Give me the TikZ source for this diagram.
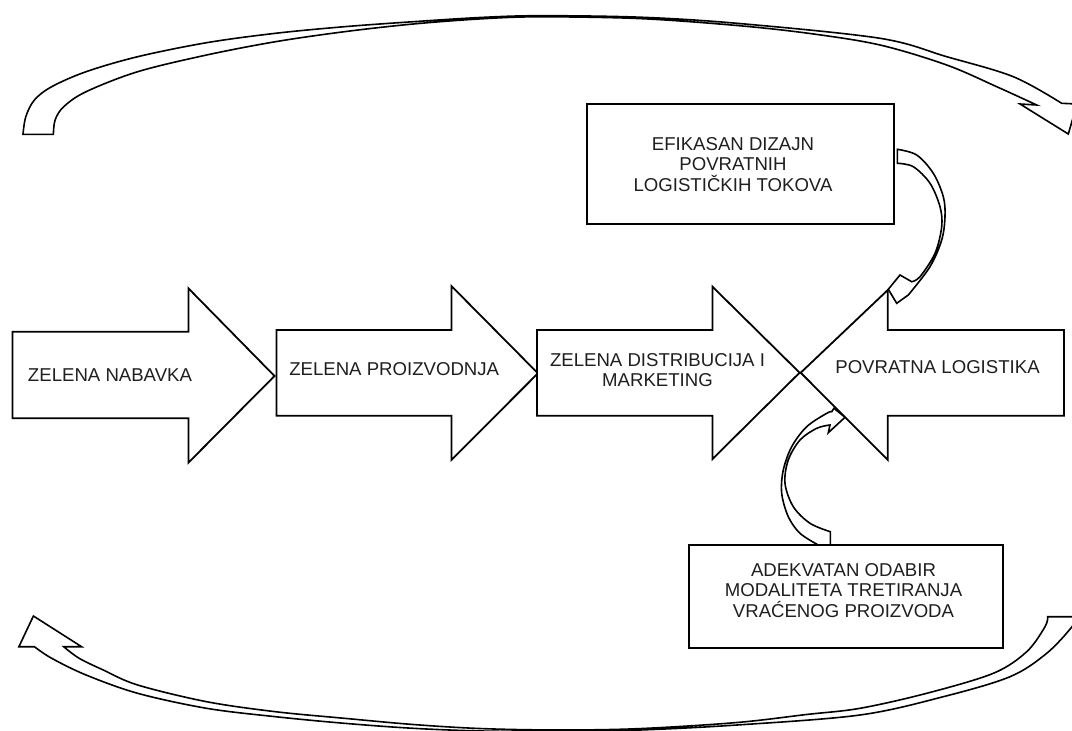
\documentclass[tikz,border=0pt]{standalone}
\usepackage{fontspec}
\setmainfont{Liberation Sans}
\begin{document}
\begin{tikzpicture}[x=1pt,y=-1pt,
  blk/.style={draw=black, line width=1.8pt, fill=white, line join=miter},
  box/.style={draw=black, line width=2.2pt, fill=white},
  bnd/.style={draw=black, line width=1.6pt, fill=white, line join=miter},
  lbl/.style={font=\fontsize{18.6}{20.5}\selectfont, text=black!88, align=center, inner sep=0pt},
]
\useasboundingbox (0,0) rectangle (1072,731);
\clip (0,0) rectangle (1072,731);

% upper return arrow (tail at the left, head at the right)
\draw[bnd] (23,134.3) -- (53.4,134.3)
  -- plot[smooth, tension=0.55] coordinates {(53.4,134.3) (55.1,120) (63.7,106.7) (86.1,91.7) (137.7,71.7) (206.6,55) (275.5,41.7) (344.4,31.7) (413.2,24) (482,18.8) (540,16.8) (640,18.6) (737,25.5) (810,33.5) (880,45) (946.7,65) (996.7,86.7) (1036.7,105)}
  -- (1020,104) -- (1068.3,134) -- (1077,104) -- (1061.7,103.3)
  -- plot[smooth, tension=0.55] coordinates {(1061.7,103.3) (1013.3,76.7) (946.7,56.7) (880,38.3) (737,23.3) (640,17.2) (540,15.7) (482,17.4) (413.2,21.7) (344.4,26.7) (275.5,33.3) (206.6,42.7) (137.7,56.7) (86.1,71.7) (51.7,86.7) (34.4,100) (25.8,116.7) (23,134.3)}
  -- cycle;

% lower return arrow (tail at the right, head at the left)
\draw[bnd] (1047.7,616.7) -- (1076,616.7)
  -- plot[smooth, tension=0.55] coordinates {(1076,616.7) (1072,626.7) (1046.7,653.3) (1010,676.7) (943.3,696.7) (860,715) (737,725) (640,730) (560,731.5) (482,731) (413.2,728.3) (344.4,723.3) (275.5,716.7) (206.6,708.3) (137.7,693.3) (86.1,675) (51.7,658.3) (34.4,646.7)}
  -- (18.9,646.7) -- (33.4,616) -- (81.6,646.7) -- (63.7,646.7)
  -- plot[smooth, tension=0.55] coordinates {(63.7,646.7) (79.2,658.3) (103.3,670) (137.7,685) (206.6,701.7) (275.5,711.7) (344.4,718.3) (413.2,724.5) (482,728.6) (560,730) (640,728.6) (737,722.5) (806.5,714.5) (860,708.3) (926.7,693.3) (993.3,673.3) (1026.7,651.7) (1045,626.7) (1047.7,616.7)}
  -- cycle;

% block arrows of the chain
\draw[blk] (12.4,331.7) -- (188.4,331.7) -- (188.4,288.3) -- (274.5,376) -- (188.4,462.7) -- (188.4,418.3) -- (12.4,418.3) -- cycle;
\draw[blk] (276.5,330) -- (451.4,330) -- (451.4,286) -- (537.9,373.3) -- (451.4,460) -- (451.4,415.7) -- (276.5,415.7) -- cycle;
\draw[blk] (536.9,330) -- (712.5,330) -- (712.5,286.7) -- (799.6,372.7) -- (712.5,459) -- (712.5,415.7) -- (536.9,415.7) -- cycle;
\draw[blk] (1064,330) -- (887.8,330) -- (887.8,290) -- (800.7,372.7) -- (887.8,460) -- (887.8,415.7) -- (1064,415.7) -- cycle;

\node[lbl] (nabavka) at (110,375) {ZELENA NABAVKA};
\node[lbl] (proizvodnja) at (394.2,369.3) {ZELENA PROIZVODNJA};
\node[lbl] (distribucija) at (657.5,370.3) {ZELENA DISTRIBUCIJA I\\MARKETING};
\node[lbl] (povratna) at (937.5,367.3) {POVRATNA LOGISTIKA};

% side boxes
\draw[box] (587.3,104) rectangle (894.3,224);
\node[lbl] (dizajn) at (733,164.1) {EFIKASAN DIZAJN\\POVRATNIH\\LOGISTIČKIH TOKOVA};
\draw[box] (689.3,545) rectangle (1003.3,648.3);
\node[lbl] (odabir) at (843.5,590.2) {ADEKVATAN ODABIR\\MODALITETA TRETIRANJA\\VRAĆENOG PROIZVODA};

% small curved arrow from the upper box
\draw[bnd] (897.3,163.3) -- (897.3,149.3)
  -- plot[smooth, tension=0.55] coordinates {(897.3,149.3) (916.7,155) (933.3,173.3) (943.3,196.7) (945,216.7) (941.7,240) (930,266.7) (908.3,295)}
  -- (896.7,303.3) -- (888.3,289.3) -- (900,275) -- (911.7,281.7)
  -- plot[smooth, tension=0.55] coordinates {(911.7,281.7) (920,276.7) (935,253.3) (941.7,226.7) (940,206.7) (930,183.3) (913.3,166.7) (897.3,163.3)}
  -- cycle;

% small curved arrow from the lower box
\draw[bnd] (830.3,531.7) -- (830.3,545) -- (818.3,545)
  -- plot[smooth, tension=0.55] coordinates {(818.3,545) (800,533.3) (788.3,516.7) (781.7,493.3) (783.3,470) (791.7,446.7) (806.7,426.7) (826.7,413.3) (831.7,411.7)}
  -- (834,408.3) -- (845,417.3) -- (828.3,432.7) -- (830,425)
  -- plot[smooth, tension=0.55] coordinates {(830,425) (816.7,428.3) (800,440) (788.3,460) (785,483.3) (793.3,506.7) (810,523.3) (830.3,531.7)}
  -- cycle;
\end{tikzpicture}
\end{document}
